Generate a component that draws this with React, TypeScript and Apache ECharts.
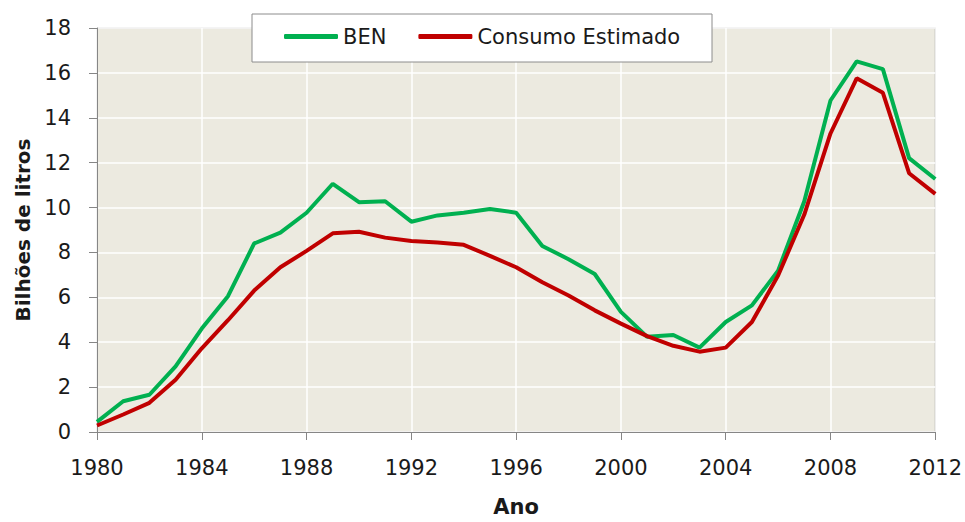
import React, { useEffect, useRef } from "react";
import * as echarts from "echarts";

const years = [
  1980, 1981, 1982, 1983, 1984, 1985, 1986, 1987, 1988, 1989, 1990, 1991, 1992,
  1993, 1994, 1995, 1996, 1997, 1998, 1999, 2000, 2001, 2002, 2003, 2004, 2005,
  2006, 2007, 2008, 2009, 2010, 2011, 2012,
];
const benValues = [
  0.45, 1.37, 1.66, 2.92, 4.61, 6.05, 8.4, 8.88, 9.77, 11.06, 10.24, 10.28, 9.37,
  9.65, 9.77, 9.94, 9.77, 8.29, 7.7, 7.04, 5.35, 4.24, 4.32, 3.76, 4.9, 5.64,
  7.19, 10.28, 14.77, 16.51, 16.17, 12.2, 11.27,
];
const consumoValues = [
  0.29, 0.78, 1.3, 2.33, 3.73, 4.98, 6.3, 7.34, 8.07, 8.85, 8.92, 8.66, 8.51,
  8.44, 8.34, 7.85, 7.34, 6.67, 6.08, 5.42, 4.83, 4.27, 3.84, 3.58, 3.76, 4.9,
  6.97, 9.69, 13.3, 15.76, 15.11, 11.53, 10.61,
];
const seriesNames = ["BEN", "Consumo Estimado"];
const xTitle = "Ano";
const yTitle = "Bilhões de litros";

export default function App() {
  const ref = useRef<HTMLDivElement>(null);
  useEffect(() => {
    if (!ref.current) return;
    const chart = echarts.init(ref.current, null, { renderer: "svg" });
    const font = "DejaVu Sans";
    chart.setOption({
      animation: false,
      backgroundColor: "#ffffff",
      grid: {
        left: 97,
        right: 28,
        top: 28,
        bottom: 86,
        show: true,
        backgroundColor: "#ECEAE0",
        borderColor: "#a6a6a6",
        borderWidth: 1,
      },
      graphic: [
        {
          type: "rect",
          z: 5,
          shape: { x: 252, y: 14, width: 460, height: 48 },
          style: { fill: "#ffffff", stroke: "#8c8c8c", lineWidth: 1 },
        },
      ],
      legend: {
        z: 10,
        left: 284,
        top: 26,
        padding: 0,
        itemWidth: 54,
        itemHeight: 5,
        itemGap: 32,
        icon: "roundRect",
        textStyle: { fontFamily: font, fontSize: 21, color: "#1a1a1a" },
        data: seriesNames,
      },
      xAxis: {
        type: "value",
        min: 1980,
        max: 2012,
        interval: 4,
        name: xTitle,
        nameLocation: "middle",
        nameGap: 64,
        nameTextStyle: { fontFamily: font, fontSize: 21, fontWeight: "bold", color: "#1a1a1a", verticalAlign: "top" },
        axisLine: { show: true, lineStyle: { color: "#868686", width: 1 } },
        axisTick: { show: true, length: 8, lineStyle: { color: "#868686" } },
        axisLabel: { fontFamily: font, fontSize: 21, color: "#1a1a1a", margin: 25, formatter: (v: number) => String(v) },
        splitLine: { show: true, lineStyle: { color: "#ffffff", width: 1.5 } },
      },
      yAxis: {
        type: "value",
        min: 0,
        max: 18,
        interval: 2,
        name: yTitle,
        nameLocation: "middle",
        nameGap: 64,
        nameTextStyle: { fontFamily: font, fontSize: 20, fontWeight: "bold", color: "#1a1a1a" },
        axisLine: { show: true, lineStyle: { color: "#868686", width: 1 } },
        axisTick: { show: true, length: 8, lineStyle: { color: "#868686" } },
        axisLabel: { fontFamily: font, fontSize: 21, color: "#1a1a1a", margin: 26 },
        splitLine: { show: true, lineStyle: { color: "#ffffff", width: 1.5 } },
      },
      series: [
        {
          name: seriesNames[0],
          type: "line",
          data: years.map((y, i) => [y, benValues[i]]),
          showSymbol: false,
          symbol: "none",
          lineStyle: { color: "#00B050", width: 4 },
          itemStyle: { color: "#00B050" },
          z: 3,
        },
        {
          name: seriesNames[1],
          type: "line",
          data: years.map((y, i) => [y, consumoValues[i]]),
          showSymbol: false,
          symbol: "none",
          lineStyle: { color: "#C00000", width: 4 },
          itemStyle: { color: "#C00000" },
          z: 4,
        },
      ],
    });
    return () => chart.dispose();
  }, []);
  return <div ref={ref} style={{ width: 965, height: 522, position: "absolute", left: 0, top: 0 }} />;
}
